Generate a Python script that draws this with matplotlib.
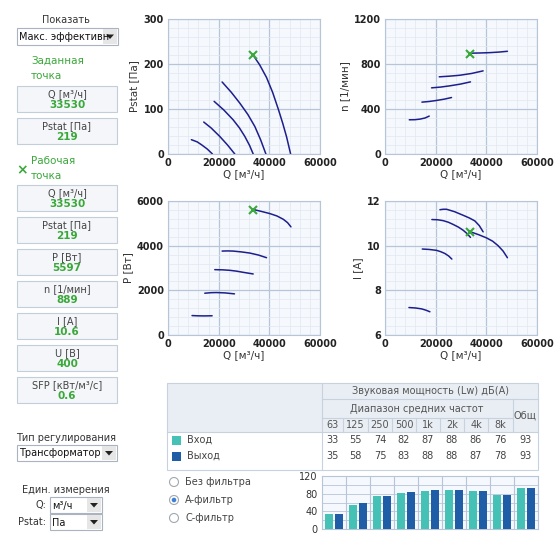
import matplotlib
matplotlib.use("Agg")
import matplotlib.pyplot as plt
from matplotlib.patches import Rectangle, Circle, Polygon
from matplotlib.ticker import MultipleLocator, AutoMinorLocator

W, H = 558, 539
plt.rcParams['font.family'] = ['DejaVu Sans']

# ---------------- data ----------------
# Pstat vs Q curves (5 speeds)
p_q1 = [9231, 11500, 13190, 15500, 17540]
p_v1 = [31.8, 27, 20.7, 11, 0]
p_q2 = [14110, 17000, 20440, 23500, 26370]
p_v2 = [71, 58, 39, 20, 0]
p_q3 = [18200, 22000, 25710, 28200, 30330, 32200, 33630]
p_v3 = [117, 98, 76, 58, 39, 19, 0]
p_q4 = [21360, 25000, 28350, 31500, 34290, 36600, 38640]
p_v4 = [160, 137, 113, 88, 61, 31, 0]
p_q5 = [33630, 36200, 38900, 41300, 43520, 45300, 46810, 48400]
p_v5 = [219.5, 198, 170, 137, 100, 68, 38, 0]

# n vs Q
n_q1 = [9580, 11800, 13790, 15800, 17460]
n_v1 = [304, 305, 310, 320, 337]
n_q2 = [14570, 17500, 20350, 23500, 26260]
n_v2 = [461, 467, 476, 488, 502]
n_q3 = [18380, 22000, 25600, 29700, 33740]
n_v3 = [588, 595, 606, 621, 641]
n_q4 = [21400, 25500, 29540, 34200, 38730]
n_v4 = [686, 692, 700, 716, 739]
n_q5 = [33490, 37500, 41370, 45000, 48330]
n_v5 = [896, 898, 901, 906, 913]

# P vs Q
w_q1 = [9490, 12000, 14500, 17410]
w_v1 = [870, 858, 855, 861]
w_q2 = [14510, 17000, 19120, 22500, 26240]
w_v2 = [1871, 1895, 1901, 1885, 1842]
w_q3 = [18460, 21500, 24400, 27000, 29670, 33630]
w_v3 = [2926, 2918, 2896, 2860, 2807, 2733]
w_q4 = [21360, 23500, 25710, 29000, 32310, 35700, 38900]
w_v4 = [3758, 3765, 3758, 3720, 3669, 3580, 3461]
w_q5 = [33890, 37000, 40220, 43000, 45490, 47200, 48530]
w_v5 = [5614, 5530, 5436, 5330, 5183, 5030, 4842]

# I vs Q
i_q1 = [9450, 12000, 14440, 16200, 17730]
i_v1 = [7.23, 7.21, 7.17, 7.11, 7.04]
i_q2 = [14710, 17500, 20350, 22000, 23630, 25100, 26390]
i_v2 = [9.85, 9.83, 9.79, 9.73, 9.65, 9.54, 9.40]
i_q3 = [18510, 20800, 22980, 25000, 26920, 29000, 30860, 32400, 33740]
i_v3 = [11.17, 11.16, 11.12, 11.05, 10.95, 10.83, 10.69, 10.54, 10.37]
i_q4 = [21670, 23000, 24300, 27500, 30860, 33300, 35450, 37200, 38730]
i_v4 = [11.61, 11.63, 11.63, 11.52, 11.36, 11.24, 11.11, 10.90, 10.62]
i_q5 = [33740, 37000, 40040, 42500, 44640, 46600, 48330]
i_v5 = [10.62, 10.49, 10.35, 10.20, 10.00, 9.76, 9.46]

# working point
work_q = 33530
work_pstat = 219
work_n = 889
work_p = 5597
work_i = 10.6
work_u = 400
work_sfp = 0.6

# sound table
freq_labels = ['63', '125', '250', '500', '1k', '2k', '4k', '8k']
sound_in = [33, 55, 74, 82, 87, 88, 86, 76]
sound_out = [35, 58, 75, 83, 88, 88, 87, 78]
total_in = 93
total_out = 93

CURVE = '#1c1f8c'
GREEN = '#3aa83a'
GRIDMAJ = '#b7c5d8'
GRIDMIN = '#e2e8f1'
FACE = '#f5f8fd'
TEAL = '#45c1b5'
BLUE = '#1f5ea6'

fig = plt.figure(figsize=(W / 100, H / 100), dpi=100)
fig.patch.set_facecolor('white')

ui = fig.add_axes([0, 0, 1, 1])
ui.set_xlim(0, W)
ui.set_ylim(H, 0)
ui.axis('off')
ui.set_zorder(0)


def pax(x0, y0, x1, y1):
    a = fig.add_axes([x0 / W, 1 - y1 / H, (x1 - x0) / W, (y1 - y0) / H])
    a.set_zorder(2)
    return a


def style_chart(ax, xmax, ymin, ymax, ystep, ylabel):
    ax.set_facecolor(FACE)
    ax.set_xlim(0, xmax)
    ax.set_ylim(ymin, ymax)
    ax.xaxis.set_major_locator(MultipleLocator(20000))
    ax.yaxis.set_major_locator(MultipleLocator(ystep))
    ax.xaxis.set_minor_locator(AutoMinorLocator(5))
    ax.yaxis.set_minor_locator(AutoMinorLocator(5))
    ax.grid(which='major', color=GRIDMAJ, lw=0.9)
    ax.grid(which='minor', color=GRIDMIN, lw=0.5)
    ax.set_axisbelow(True)
    for s in ax.spines.values():
        s.set_color(GRIDMAJ)
    ax.tick_params(which='both', length=0, labelsize=7, colors='#222222', pad=3)
    for lab in ax.get_xticklabels() + ax.get_yticklabels():
        lab.set_fontweight('bold')
    ax.set_xlabel('Q [м³/ч]', fontsize=7.5, color='#333333', labelpad=1)
    ax.set_ylabel(ylabel, fontsize=7.5, color='#333333', labelpad=3)


def draw_curves(ax, qs, vs, wy):
    for q, v in zip(qs, vs):
        ax.plot(q, v, color=CURVE, lw=1.1, solid_capstyle='round', solid_joinstyle='round')
    ax.plot([work_q], [wy], marker='x', color=GREEN, ms=6, mew=1.5, zorder=5)


ax1 = pax(168, 19, 320, 154)
style_chart(ax1, 60000, 0, 300, 100, 'Pstat [Па]')
draw_curves(ax1, [p_q1, p_q2, p_q3, p_q4, p_q5], [p_v1, p_v2, p_v3, p_v4, p_v5], work_pstat)

ax2 = pax(385, 19, 537, 154)
style_chart(ax2, 60000, 0, 1200, 400, 'n [1/мин]')
draw_curves(ax2, [n_q1, n_q2, n_q3, n_q4, n_q5], [n_v1, n_v2, n_v3, n_v4, n_v5], work_n)

ax3 = pax(168, 201, 320, 335)
style_chart(ax3, 60000, 0, 6000, 2000, 'P [Вт]')
draw_curves(ax3, [w_q1, w_q2, w_q3, w_q4, w_q5], [w_v1, w_v2, w_v3, w_v4, w_v5], work_p)

ax4 = pax(385, 201, 537, 335)
style_chart(ax4, 60000, 6, 12, 2, 'I [A]')
draw_curves(ax4, [i_q1, i_q2, i_q3, i_q4, i_q5], [i_v1, i_v2, i_v3, i_v4, i_v5], work_i)

# ---------------- left panel ----------------
TXT = '#333333'
BOXEDGE = '#c3cedb'
BOXFACE = '#f4f6f9'


def dropdown(x0, y0, x1, y1, text):
    ui.add_patch(Rectangle((x0, y0), x1 - x0, y1 - y0, fc='white', ec='#a9b4c0', lw=0.8))
    bx = x1 - 15
    ui.add_patch(Rectangle((bx, y0 + 1), 14, y1 - y0 - 2, fc='#e6e6e6', ec='none'))
    cx = bx + 7
    cy = (y0 + y1) / 2
    ui.add_patch(Polygon([[cx - 4, cy - 2], [cx + 4, cy - 2], [cx, cy + 2.5]], closed=True, fc='#222222', ec='none'))
    ui.text(x0 + 2, cy + 0.5, text, fontsize=7, color='#111111', va='center', ha='left', clip_on=True)


def valbox(y0, label, value):
    ui.add_patch(Rectangle((17, y0), 100, 26, fc=BOXFACE, ec=BOXEDGE, lw=0.8))
    ui.text(67, y0 + 8, label, fontsize=7, color='#444444', ha='center', va='center')
    ui.text(67, y0 + 19, value, fontsize=7.5, color=GREEN, ha='center', va='center', fontweight='bold')


ui.text(66, 20, 'Показать', fontsize=7, color=TXT, ha='center', va='center')
dropdown(17, 28, 118, 45, 'Макс. эффективн')
ui.text(31, 61, 'Заданная', fontsize=7.5, color=GREEN, ha='left', va='center')
ui.text(31, 76, 'точка', fontsize=7.5, color=GREEN, ha='left', va='center')
valbox(86, 'Q [м³/ч]', str(work_q))
valbox(118, 'Pstat [Па]', str(work_pstat))
ui.text(22, 170, '×', fontsize=10, color=GREEN, ha='center', va='center', fontweight='bold')
ui.text(31, 161, 'Рабочая', fontsize=7.5, color=GREEN, ha='left', va='center')
ui.text(31, 176, 'точка', fontsize=7.5, color=GREEN, ha='left', va='center')
valbox(185, 'Q [м³/ч]', str(work_q))
valbox(217, 'Pstat [Па]', str(work_pstat))
valbox(249, 'P [Вт]', str(work_p))
valbox(281, 'n [1/мин]', str(work_n))
valbox(313, 'I [A]', f'{work_i}')
valbox(345, 'U [В]', str(work_u))
valbox(377, 'SFP [кВт/м³/с]', f'{work_sfp}')

ui.text(66, 438, 'Тип регулирования', fontsize=7, color=TXT, ha='center', va='center')
dropdown(17, 445, 117, 461, 'Трансформатор')
ui.text(66, 490, 'Един. измерения', fontsize=7, color=TXT, ha='center', va='center')
ui.text(46, 505, 'Q:', fontsize=7, color=TXT, ha='right', va='center')
dropdown(50, 497, 102, 513, 'м³/ч')
ui.text(46, 522, 'Pstat:', fontsize=7, color=TXT, ha='right', va='center')
dropdown(50, 514, 102, 530, 'Па')

# ---------------- radio buttons ----------------
radio_labels = ['Без фильтра', 'А-фильтр', 'С-фильтр']
for k, lab in enumerate(radio_labels):
    cy = 482 + 18 * k
    ui.add_patch(Circle((174, cy), 4.5, fc='white', ec='#a0a8b0', lw=0.8))
    if k == 1:
        ui.add_patch(Circle((174, cy), 2.3, fc='#3d7fd0', ec='none'))
    ui.text(185, cy, lab, fontsize=7, color='#444444', ha='left', va='center')

# ---------------- sound table ----------------
HDR = '#e9eef4'
LINE = '#c8d2de'
tx0, tx1 = 167, 538
col_x = [322, 343, 368, 392, 416, 440, 464, 488, 513, 538]
r0, r1, r2, r3, r4 = 383, 399, 418, 432, 470
ui.add_patch(Rectangle((tx0, r0), tx1 - tx0, r3 - r0, fc=HDR, ec='none'))
ui.add_patch(Rectangle((tx0, r3), tx1 - tx0, r4 - r3, fc='white', ec='none'))
ui.add_patch(Rectangle((tx0, r0), tx1 - tx0, r4 - r0, fc='none', ec=LINE, lw=0.8))
ui.plot([322, 322], [r0, r4], color=LINE, lw=0.8)
ui.plot([322, 538], [r1, r1], color=LINE, lw=0.8)
ui.plot([322, 513], [r2, r2], color=LINE, lw=0.8)
ui.plot([tx0, 538], [r3, r3], color=LINE, lw=0.8)
ui.plot([513, 513], [r1, r3], color=LINE, lw=0.8)
for xc in col_x[1:-2]:
    ui.plot([xc, xc], [r2, r3], color=LINE, lw=0.8)
ui.text(430, (r0 + r1) / 2, 'Звуковая мощность (Lw) дБ(А)', fontsize=7, color='#555555', ha='center', va='center')
ui.text(417, (r1 + r2) / 2, 'Диапазон средних частот', fontsize=7, color='#555555', ha='center', va='center')
ui.text(525.5, (r1 + r3) / 2, 'Общ', fontsize=7, color='#555555', ha='center', va='center')
for k, lab in enumerate(freq_labels):
    xc = (col_x[k] + col_x[k + 1]) / 2
    ui.text(xc, (r2 + r3) / 2, lab, fontsize=7, color='#555555', ha='center', va='center')
    ui.text(xc, 440, str(sound_in[k]), fontsize=7, color='#444444', ha='center', va='center')
    ui.text(xc, 456, str(sound_out[k]), fontsize=7, color='#444444', ha='center', va='center')
ui.text(525.5, 440, str(total_in), fontsize=7, color='#444444', ha='center', va='center')
ui.text(525.5, 456, str(total_out), fontsize=7, color='#444444', ha='center', va='center')
ui.add_patch(Rectangle((172, 435.5), 9, 9, fc=TEAL, ec='none'))
ui.add_patch(Rectangle((172, 451.5), 9, 9, fc=BLUE, ec='none'))
ui.text(187, 440, 'Вход', fontsize=7, color='#444444', ha='left', va='center')
ui.text(187, 456, 'Выход', fontsize=7, color='#444444', ha='left', va='center')

# ---------------- bar chart ----------------
axb = pax(322, 476, 538, 529)
bar_in = sound_in + [total_in]
bar_out = sound_out + [total_out]
n_groups = len(bar_in)
xs = list(range(n_groups))
axb.bar([x - 0.21 for x in xs], bar_in, width=0.34, color=TEAL, zorder=3)
axb.bar([x + 0.21 for x in xs], bar_out, width=0.34, color=BLUE, zorder=3)
axb.set_xlim(-0.5, n_groups - 0.5)
axb.set_ylim(0, 120)
axb.set_facecolor(FACE)
axb.yaxis.set_major_locator(MultipleLocator(40))
axb.yaxis.set_minor_locator(MultipleLocator(20))
axb.set_xticks([x + 0.5 for x in xs[:-1]])
axb.set_xticklabels([])
axb.grid(which='both', axis='y', color=GRIDMAJ, lw=0.6)
axb.grid(which='major', axis='x', color=GRIDMAJ, lw=0.8)
axb.set_axisbelow(True)
for s in axb.spines.values():
    s.set_color(GRIDMAJ)
axb.tick_params(which='both', length=0, labelsize=7, colors='#333333', pad=3)

fig.savefig('out.png', dpi=100)
